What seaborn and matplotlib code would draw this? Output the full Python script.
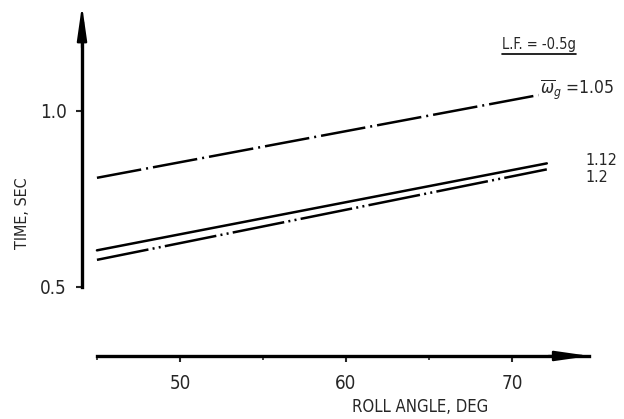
import numpy as np
import pandas as pd
import matplotlib
matplotlib.use("Agg")
import matplotlib.pyplot as plt
from matplotlib.lines import Line2D
from matplotlib.transforms import IdentityTransform
import seaborn as sns

# Time vs roll angle for three frequency ratios (L.F. = -0.5g)
cases = ["1.05", "1.12", "1.2"]
roll_1_05 = [45.0, 71.6]
time_1_05 = [0.81, 1.045]
roll_1_12 = [45.0, 72.1]
time_1_12 = [0.604, 0.851]
roll_1_2 = [45.0, 72.1]
time_1_2 = [0.577, 0.834]

x_ticks = [50, 60, 70]
x_minor = [45, 55, 65]
y_ticks = [0.5, 1.0]
y_ticklabels = ["0.5", "1.0"]

df = pd.DataFrame({
    "roll": roll_1_05 + roll_1_12 + roll_1_2,
    "time": time_1_05 + time_1_12 + time_1_2,
    "case": [cases[0]] * 2 + [cases[1]] * 2 + [cases[2]] * 2,
})

sns.set_style("white")
plt.rcParams["font.family"] = ["DejaVu Sans"]
plt.rcParams["font.stretch"] = "condensed"

fig = plt.figure(figsize=(6.24, 4.19), dpi=100)
ax = fig.add_axes([0, 0, 1, 1])
ax.patch.set_alpha(0)

sns.lineplot(
    data=df, x="roll", y="time", hue="case", style="case",
    palette={c: "black" for c in cases},
    dashes={"1.05": (18, 2.0, 0.8, 2.0),
            "1.12": "",
            "1.2": (21, 1.7, 0.8, 1.7, 0.8, 1.7)},
    linewidth=1.8, legend=False, errorbar=None, ax=ax,
)

ax.set_xlim(39.16, 76.75)
ax.set_ylim(0.125, 1.315)

# detached axes with arrowheads
y_axis_x = 44.1
x_axis_y = 0.304
y_top = 1.30
x_right = 74.7
for s in ("top", "right"):
    ax.spines[s].set_visible(False)
for s in ("left", "bottom"):
    ax.spines[s].set_linewidth(2.4)
    ax.spines[s].set_color("black")
ax.spines["left"].set_position(("data", y_axis_x))
ax.spines["left"].set_bounds(0.5, y_top - 0.05)
ax.spines["bottom"].set_position(("data", x_axis_y))
ax.spines["bottom"].set_bounds(45, x_right - 0.05)

arrow = dict(arrowstyle="-|>,head_length=1.4,head_width=0.2",
             mutation_scale=15, lw=1.6, color="black",
             shrinkA=0, shrinkB=0)
ax.annotate("", xy=(y_axis_x, y_top), xytext=(y_axis_x, y_top - 0.12),
            arrowprops=arrow)
ax.annotate("", xy=(x_right, x_axis_y), xytext=(x_right - 2.5, x_axis_y),
            arrowprops=arrow)

ax.set_xticks(x_ticks)
ax.set_xticklabels([str(t) for t in x_ticks])
ax.set_xticks(x_minor, minor=True)
ax.set_yticks(y_ticks)
ax.set_yticklabels(y_ticklabels)
ax.tick_params(axis="x", which="major", direction="out", length=4, width=1.5,
               pad=9, labelsize=13.5, bottom=True)
ax.tick_params(axis="x", which="minor", direction="out", length=3, width=1.2,
               bottom=True)
ax.tick_params(axis="y", direction="out", length=4, width=1.5, pad=7,
               labelsize=13.5, left=True)

ax.set_xlabel("ROLL ANGLE, DEG", fontsize=12)
ax.xaxis.set_label_coords(64.46, 0.159, transform=ax.transData)
ax.set_ylabel("TIME, SEC", fontsize=11.5)
ax.yaxis.set_label_coords(40.5, 0.71, transform=ax.transData)
ax.xaxis.label.set_va("center")
ax.yaxis.label.set_va("center")

# curve labels
ax.text(roll_1_05[-1] + 0.1, time_1_05[-1] + 0.014,
        r"$\overline{\omega}_g$ =" + cases[0],
        fontsize=12.5, ha="left", va="center")
ax.text(74.4, 0.858, cases[1], fontsize=11.5, ha="left", va="center")
ax.text(74.4, 0.810, cases[2], fontsize=11.5, ha="left", va="center")
lf = ax.text(69.4, 1.19, "L.F. = -0.5g", fontsize=10.5, ha="left",
             va="center")

fig.canvas.draw()
bb = lf.get_window_extent()
fig.add_artist(Line2D([bb.x0, bb.x1], [bb.y0 - 2, bb.y0 - 2],
                      transform=IdentityTransform(), color="black", lw=1.2))

fig.savefig("out.png", dpi=100)
